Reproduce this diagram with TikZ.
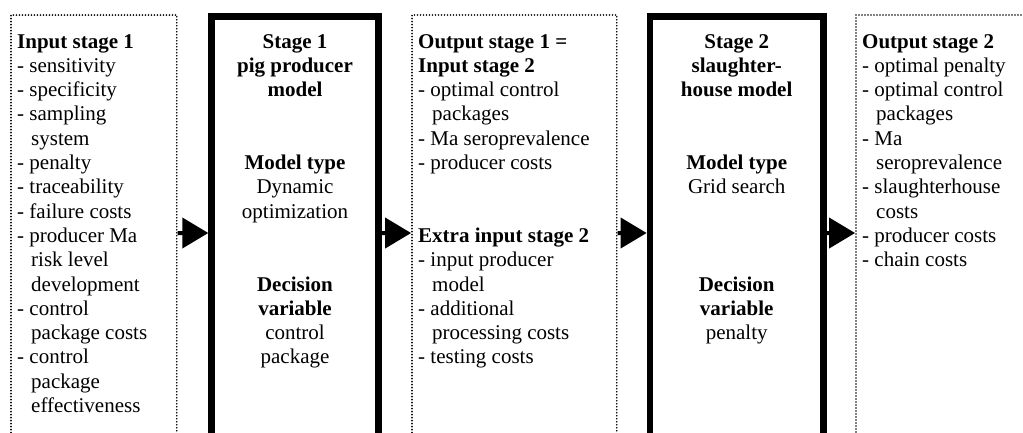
\documentclass[tikz,border=0pt]{standalone}
\usepackage{fontspec}
\setmainfont{Liberation Serif}
\usetikzlibrary{arrows.meta}
\newcommand\ind{\hspace*{14pt}}
\newcommand\blk{\mbox{}}
\tikzset{
  dotbox/.style={draw, line width=1.8pt, line cap=round, dash pattern=on 0pt off 3pt, rectangle, inner sep=0pt, anchor=north west},
  stagebox/.style={draw, line width=6.7pt, rectangle, inner sep=0pt, anchor=north west},
  txt/.style={inner sep=0pt, anchor=base west, font=\fontsize{21}{24.3}\selectfont},
  ctxt/.style={inner sep=0pt, anchor=base, font=\fontsize{21}{24.3}\selectfont},
  arr/.style={line width=4pt, -{Triangle[length=26pt,width=30pt]}}
}
\begin{document}
\begin{tikzpicture}[x=1pt,y=-1pt]
\useasboundingbox (0,0) rectangle (1023,432);
% boxes
\node[dotbox, minimum width=165.7pt, minimum height=436pt] (b1) at (10.1,14.1) {};
\node[stagebox, minimum width=166.6pt, minimum height=432.7pt] (b2) at (208.3,13.3) {};
\node[dotbox, minimum width=204.7pt, minimum height=436pt] (b3) at (411.1,14.1) {};
\node[stagebox, minimum width=173.3pt, minimum height=432.7pt] (b4) at (646.65,13.3) {};
\node[dotbox, minimum width=244pt, minimum height=436pt] (b5) at (855.1,14.1) {};
% texts
\node[txt] (t1) at (17,48) {\parbox[t]{200pt}{\raggedright
\textbf{Input stage 1}\\
- sensitivity\\
- specificity\\
- sampling\\
\ind system\\
- penalty\\
- traceability\\
- failure costs\\
- producer Ma\\
\ind risk level\\
\ind development\\
- control\\
\ind package costs\\
- control\\
\ind package\\
\ind effectiveness}};
\node[ctxt] (t2) at (295,48) {\parbox[t]{170pt}{\centering
\textbf{Stage 1}\\
\textbf{pig producer}\\
\textbf{model}\\
\blk\\
\blk\\
\textbf{Model type}\\
Dynamic\\
optimization\\
\blk\\
\blk\\
\textbf{Decision}\\
\textbf{variable}\\
control\\
package}};
\node[txt] (t3) at (418,48) {\parbox[t]{220pt}{\raggedright
\textbf{Output stage 1 =}\\
\textbf{Input stage 2}\\
- optimal control\\
\ind packages\\
- Ma seroprevalence\\
- producer costs\\
\blk\\
\blk\\
\textbf{Extra input stage 2}\\
- input producer\\
\ind model\\
- additional\\
\ind processing costs\\
- testing costs}};
\node[ctxt] (t4) at (736.7,48) {\parbox[t]{170pt}{\centering
\textbf{Stage 2}\\
\textbf{slaughter-}\\
\textbf{house model}\\
\blk\\
\blk\\
\textbf{Model type}\\
Grid search\\
\blk\\
\blk\\
\blk\\
\textbf{Decision}\\
\textbf{variable}\\
penalty}};
\node[txt] (t5) at (862,48) {\parbox[t]{200pt}{\raggedright
\textbf{Output stage 2}\\
- optimal penalty\\
- optimal control\\
\ind packages\\
- Ma\\
\ind seroprevalence\\
- slaughterhouse\\
\ind costs\\
- producer costs\\
- chain costs}};
% arrows
\draw[arr] (b1) -- (b2);
\draw[arr] (b2) -- (b3);
\draw[arr] (b3) -- (b4);
\draw[arr] (b4) -- (b5);
\end{tikzpicture}
\end{document}
